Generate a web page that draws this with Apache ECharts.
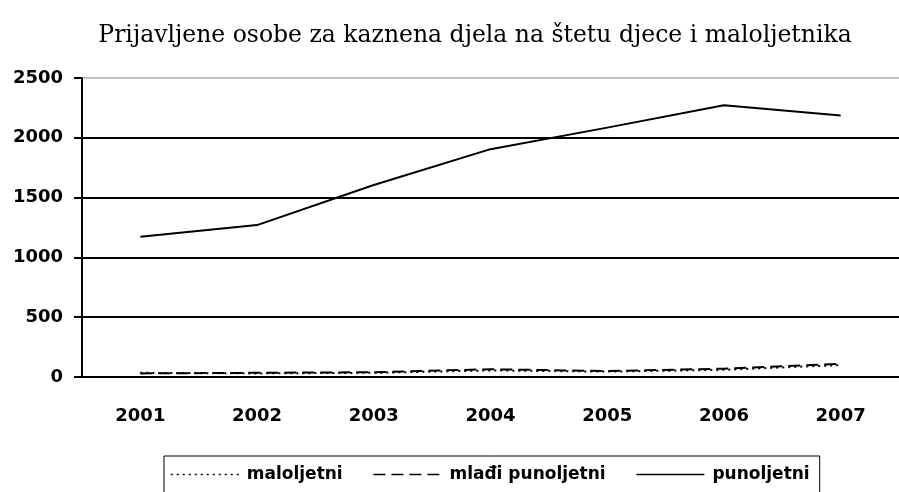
<!DOCTYPE html>
<html>
<head>
<meta charset="utf-8">
<script src="https://cdn.jsdelivr.net/npm/echarts@6/dist/echarts.min.js"></script>
<style>
  html, body { margin: 0; padding: 0; background: #fff; }
  #chart { width: 899px; height: 492px; }
</style>
</head>
<body>
<div id="chart"></div>
<script>
// godine i vrijednosti (procijenjeno s grafa)
const years = ['2001', '2002', '2003', '2004', '2005', '2006', '2007'];
const maloljetni = [35, 30, 35, 55, 45, 60, 100];
const mladiPunoljetni = [30, 35, 40, 65, 50, 70, 110];
const punoljetni = [1172, 1270, 1605, 1905, 2085, 2272, 2186];
const yTicks = [0, 500, 1000, 1500, 2000, 2500];

const myChart = echarts.init(document.getElementById('chart'));

const labelFont = {
  fontFamily: 'DejaVu Sans, sans-serif',
  fontWeight: 'bold',
  fontSize: 18,
  color: '#000'
};

var option = {
  animation: false,
  title: {
    text: 'Prijavljene osobe za kaznena djela na štetu djece i maloljetnika',
    left: 470,
    textAlign: 'center',
    top: 19,
    textStyle: {
      fontFamily: 'DejaVu Serif, serif',
      fontWeight: 'normal',
      fontSize: 23.5,
      color: '#000'
    }
  },
  grid: {
    left: 82,
    top: 78,
    width: 822,
    height: 299
  },
  legend: {
    left: 164,
    top: 456,
    itemWidth: 68,
    itemHeight: 10,
    itemGap: 30,
    padding: [10, 10, 12, 6],
    borderColor: '#000',
    borderWidth: 1,
    itemStyle: { opacity: 0 },
    lineStyle: { width: 1.5 },
    textStyle: {
      fontFamily: 'DejaVu Sans, sans-serif',
      fontWeight: 'bold',
      fontSize: 17,
      color: '#000',
      padding: [0, 0, 0, 3]
    },
    data: ['maloljetni', 'mlađi punoljetni', 'punoljetni']
  },
  xAxis: {
    type: 'category',
    data: years,
    boundaryGap: true,
    axisLine: { lineStyle: { color: '#000', width: 2 } },
    axisTick: { length: 8, lineStyle: { color: '#000', width: 2 } },
    axisLabel: Object.assign({ margin: 30 }, labelFont),
    splitLine: { show: false }
  },
  yAxis: {
    type: 'value',
    min: yTicks[0],
    max: yTicks[yTicks.length - 1],
    interval: 500,
    axisLine: { show: true, lineStyle: { color: '#000', width: 2 } },
    axisTick: { show: true, length: 8, lineStyle: { color: '#000', width: 2 } },
    axisLabel: Object.assign({ margin: 19, formatter: function (v) { return String(v); } }, labelFont),
    splitLine: {
      show: true,
      lineStyle: {
        color: ['#000', '#000', '#000', '#000', '#000', '#c0c0c0'],
        width: 2
      }
    }
  },
  series: [
    {
      name: 'maloljetni',
      type: 'line',
      symbol: 'none',
      data: maloljetni,
      lineStyle: { color: '#000', width: 2, type: [2, 4] },
      itemStyle: { color: '#000' }
    },
    {
      name: 'mlađi punoljetni',
      type: 'line',
      symbol: 'none',
      data: mladiPunoljetni,
      lineStyle: { color: '#000', width: 2, type: [12, 6] },
      itemStyle: { color: '#000' }
    },
    {
      name: 'punoljetni',
      type: 'line',
      symbol: 'none',
      data: punoljetni,
      lineStyle: { color: '#000', width: 2 },
      itemStyle: { color: '#000' }
    }
  ]
};

myChart.setOption(option);
window.addEventListener('resize', function () {
  myChart.resize();
});
</script>
</body>
</html>
